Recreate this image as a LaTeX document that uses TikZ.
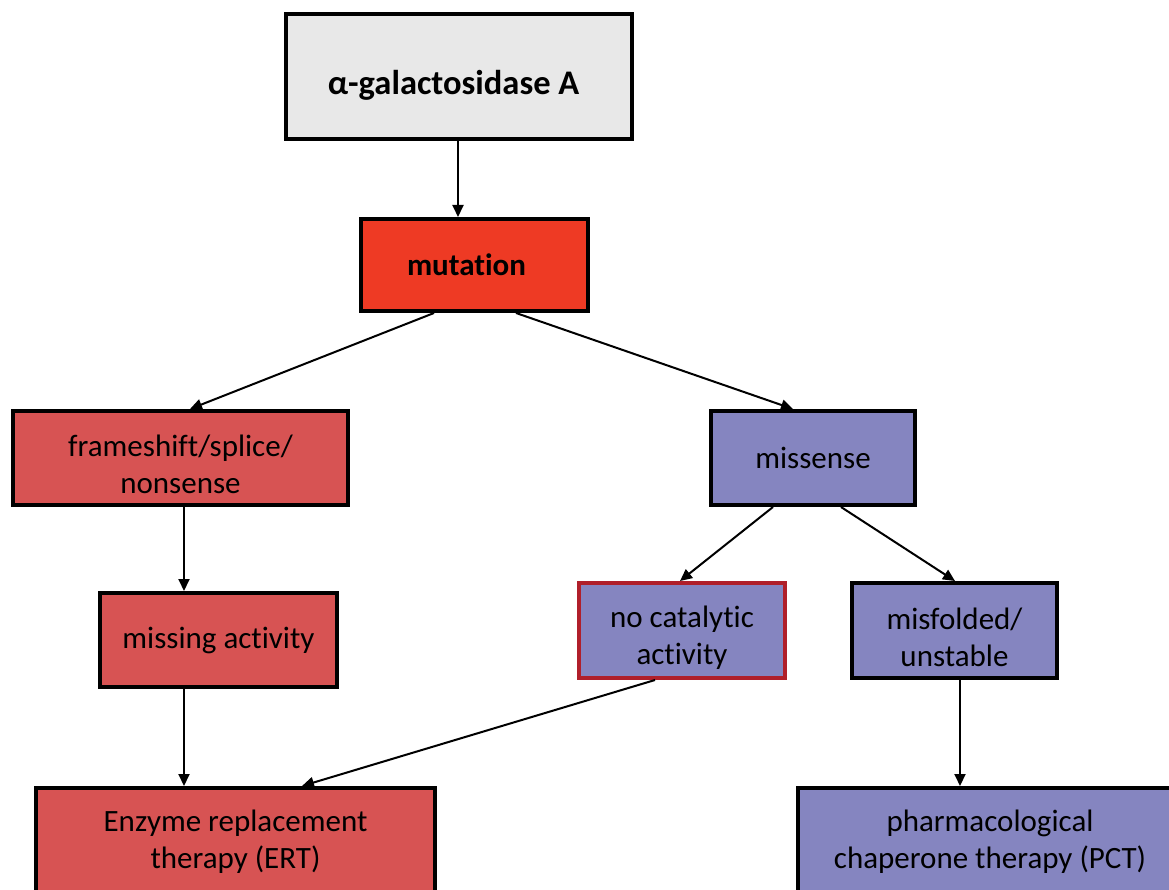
\documentclass[tikz,border=0pt]{standalone}
\usepackage{fontspec}
\setmainfont{Carlito}[Ligatures=NoCommon]
\usetikzlibrary{arrows.meta}
\definecolor{cgray}{HTML}{E8E8E8}
\definecolor{cmut}{HTML}{EE3A24}
\definecolor{cred}{HTML}{D75353}
\definecolor{cpur}{HTML}{8585C0}
\definecolor{cborder}{HTML}{B01F2A}
\newcommand{\dropline}{\rule{0pt}{35pt}}
\tikzset{
  box/.style={draw=black, line width=4pt, align=center, inner sep=0pt,
    font=\fontsize{31}{37}\selectfont, text=black},
  arr/.style={draw=black, line width=2pt, -{Triangle[length=12pt,width=11pt]}}
}
\begin{document}
\begin{tikzpicture}[x=1pt,y=-1pt]
\useasboundingbox (0,0) rectangle (1169,890);
\clip (0,0) rectangle (1169,890);
\node[box, fill=cgray, minimum width=346pt, minimum height=125pt, font=\fontsize{34.5}{40}\selectfont\bfseries] (alpha) at (459,76.5) {\raisebox{-18.5pt}[0pt][0pt]{α-galactosidase A}\hspace{11pt}};
\node[box, fill=cmut, minimum width=227pt, minimum height=92pt, font=\fontsize{31}{37}\selectfont\bfseries] (mut) at (474.5,265) {mutation\hspace{16pt}};
\node[box, fill=cred, minimum width=335pt, minimum height=94pt] (fs) at (180.5,458) {\dropline frameshift/splice/\\nonsense};
\node[box, fill=cpur, minimum width=204pt, minimum height=94pt] (mis) at (813,458) {missense};
\node[box, fill=cpur, draw=cborder, minimum width=206pt, minimum height=95pt] (noc) at (682,630.5) {\dropline no catalytic\\activity};
\node[box, fill=cpur, minimum width=205pt, minimum height=95pt] (misf) at (954.5,630.5) {\dropline misfolded/\\unstable};
\node[box, fill=cred, minimum width=237pt, minimum height=94pt] (miss) at (218.5,640) {missing activity};
\node[box, fill=cred, minimum width=399pt, minimum height=108pt] (ert) at (235.5,842) {Enzyme replacement\\therapy (ERT)};
\node[box, fill=cpur, minimum width=384pt, minimum height=108pt] (pct) at (990,842) {pharmacological\\chaperone therapy (PCT)};
\draw[arr] ([xshift=-1pt]alpha.south) -- ([xshift=-16.5pt]mut.north);
\draw[arr] ([xshift=-40.5pt]mut.south) -- ([xshift=9.5pt]fs.north);
\draw[arr] ([xshift=41.5pt]mut.south) -- ([xshift=-20pt]mis.north);
\draw[arr] ([xshift=3.5pt]fs.south) -- ([xshift=-34.5pt]miss.north);
\draw[arr] ([xshift=-34.5pt]miss.south) -- ([xshift=-51.5pt]ert.north);
\draw[arr] ([xshift=-40pt]mis.south) -- ([xshift=-2pt]noc.north);
\draw[arr] ([xshift=28pt]mis.south) -- ([xshift=0.5pt]misf.north);
\draw[arr] ([xshift=-27pt]noc.south) -- ([xshift=66.5pt]ert.north);
\draw[arr] ([xshift=5.5pt]misf.south) -- ([xshift=-30pt]pct.north);
\end{tikzpicture}
\end{document}
